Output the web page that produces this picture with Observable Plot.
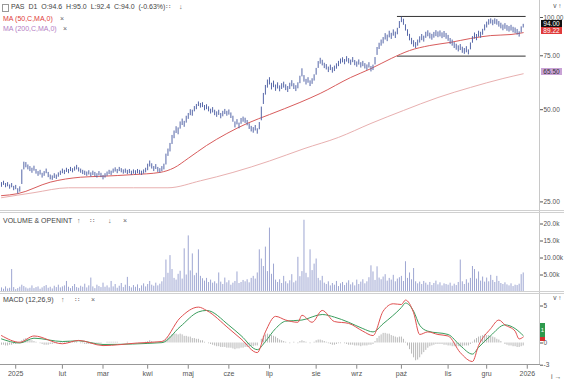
<!DOCTYPE html>
<html><head><meta charset="utf-8">
<script src="https://cdn.jsdelivr.net/npm/d3@7"></script>
<script src="https://cdn.jsdelivr.net/npm/@observablehq/plot@0.6"></script>
<style>
body{margin:0;background:#fff;font-family:"Liberation Sans",Arial,sans-serif;}
#wrap{position:relative;width:564px;height:381px;overflow:hidden;background:#fff;}
.p{position:absolute;left:0;}
.t{position:absolute;font-size:7px;color:#444;white-space:pre;line-height:8px;}
.ln{position:absolute;background:#c8c8c8;}
.box{position:absolute;left:541px;width:21px;height:7px;font-size:6.5px;line-height:7px;text-align:center;}
</style></head><body><div id="wrap"></div>
<script>
// ---- price bars (daily low / high), index 0 = mid Dec 2024 ----
const lo = [27.9,28.3,27.8,28.0,27.5,27.8,27.2,27.4,26.5,26.9,
28.5,31.8,32.3,31.8,31.4,31.0,31.5,30.8,30.3,30.6,
29.9,30.3,30.9,30.0,29.5,29.4,29.8,29.6,30.1,30.5,
30.9,30.7,31.2,30.9,31.4,31.1,31.5,31.8,31.3,31.0,
30.7,30.5,30.3,30.6,30.1,30.5,30.2,29.9,30.4,30.0,
29.5,29.9,30.3,30.7,30.5,31.0,31.3,30.9,31.4,31.1,
30.8,31.0,30.7,30.9,30.5,30.8,30.6,30.9,30.7,30.5,
30.8,31.1,31.6,32.5,32.0,31.4,31.9,31.2,31.0,31.4,
31.8,33.0,35.2,36.4,38.5,40.2,41.8,41.4,43.2,44.4,
43.8,45.2,46.5,47.8,47.6,49.2,50.0,51.2,50.6,50.8,
49.6,50.0,49.2,48.4,48.8,47.8,47.2,47.9,46.7,47.4,
48.2,47.6,48.0,46.8,45.5,43.6,44.6,43.3,44.8,45.5,
45.1,44.3,43.1,42.3,41.9,42.6,41.6,43.0,46.0,52.0,
55.8,58.8,60.2,58.0,59.0,57.4,58.4,57.2,58.2,58.8,
57.7,56.9,58.2,59.4,58.2,57.3,58.5,60.8,64.0,61.5,
60.2,61.0,59.5,60.5,62.0,64.8,68.2,70.4,69.5,68.1,
67.4,66.1,67.1,65.8,66.6,67.8,69.1,70.4,71.1,70.1,
71.5,70.6,69.8,71.2,69.6,68.8,69.9,68.4,69.1,67.9,
67.2,68.4,66.4,67.1,70.0,75.2,78.6,80.6,82.0,84.4,
83.4,85.8,84.8,86.9,85.4,87.8,92.0,96.2,94.3,90.3,
86.8,83.9,81.5,80.0,79.2,80.6,82.5,84.0,83.1,85.5,
86.5,85.1,84.3,85.6,86.6,85.9,86.4,85.3,86.0,84.9,
83.6,81.6,80.6,79.2,78.2,77.2,78.0,76.4,75.8,76.7,
75.5,78.4,82.4,85.0,84.0,86.2,85.5,87.5,90.4,92.4,
94.4,95.2,94.0,95.0,94.4,93.0,91.8,90.5,91.5,90.2,
89.6,90.3,89.1,88.6,87.6,86.3,89.0,92.4];
const hi = [28.9,29.2,28.7,28.9,28.4,28.7,28.1,28.3,27.6,28.0,
31.8,33.7,33.6,33.0,32.6,32.2,32.7,31.9,31.4,31.7,
31.0,31.4,32.0,31.2,30.6,30.4,30.9,30.6,31.1,31.5,
32.0,31.7,32.2,31.9,32.4,32.1,32.5,32.9,32.3,32.0,
31.7,31.5,31.3,31.6,31.1,31.5,31.2,30.9,31.4,31.0,
30.5,30.9,31.3,31.7,31.5,32.0,32.3,31.9,32.4,32.1,
31.8,32.0,31.7,31.9,31.5,31.8,31.6,31.9,31.7,31.5,
31.8,32.2,33.2,34.0,33.3,32.6,33.1,32.4,32.1,32.6,
33.2,35.8,37.2,38.8,41.2,42.6,44.0,43.6,45.6,46.6,
45.8,47.6,48.6,50.0,49.8,51.2,52.0,53.0,52.4,52.7,
51.6,51.9,51.1,50.2,50.8,49.8,49.2,49.8,48.6,49.4,
50.1,49.4,49.9,48.8,47.6,45.6,46.4,45.2,46.8,47.3,
46.9,46.1,45.0,44.1,43.7,44.4,43.3,45.4,51.0,56.5,
60.0,62.5,63.6,61.0,62.0,60.2,61.2,59.8,60.8,61.5,
60.3,59.5,61.0,62.2,60.8,59.9,61.2,64.3,68.0,64.6,
62.8,63.6,62.1,63.1,65.0,68.2,71.8,73.6,72.5,70.9,
70.2,68.9,69.9,68.6,69.4,70.6,71.9,73.2,73.9,72.9,
74.5,73.4,72.6,74.0,72.4,71.6,72.7,71.2,71.9,70.7,
70.0,71.2,69.2,69.9,74.0,79.8,82.4,84.4,86.0,88.6,
87.6,90.2,88.8,91.1,89.6,92.2,97.0,100.2,98.7,94.7,
91.2,88.1,85.5,84.0,82.8,84.4,86.5,88.0,86.9,89.5,
90.5,88.9,88.1,89.4,90.6,89.7,90.4,89.1,90.0,88.7,
87.4,85.4,84.4,82.8,81.8,80.8,81.6,80.0,79.2,80.3,
78.4,82.6,86.6,89.0,88.0,90.2,89.5,91.5,94.6,96.6,
98.4,99.0,98.0,99.0,98.4,97.0,95.8,94.5,95.5,94.2,
93.4,94.3,92.9,92.4,91.4,89.8,93.2,95.0];

// ---- moving averages ----
const ma50Idx = [0,8,24,39,49,65,78,85,92,101,111,121,132,147,157,172,182,192,201,211,221,231,241,251,257];
const ma50Val = [26.2,26.6,29.0,30.1,30.3,30.7,31.2,32.3,34.7,38.2,41.8,45.1,48.2,52.8,56.5,63.7,68.1,73.5,78.0,81.0,82.9,85.4,87.3,88.0,89.22];
const ma200Idx = [0,16,33,49,65,82,98,114,132,149,166,182,198,215,231,247,257];
const ma200Val = [25.8,26.8,27.8,27.8,27.8,27.8,29.3,31.2,34.0,37.3,40.6,45.1,49.7,54.8,59.1,63.2,65.5];

// ---- channel lines ----
const chanIdx = [195,258];
const chanTop = 100.8;
const chanBot = 74.8;

// ---- volume (thousands) ----
const vol = [1.2,0.8,1.5,0.9,1.1,6.6,1.3,0.7,1.0,1.4,
2.0,1.6,1.2,0.9,1.1,1.8,1.0,1.3,1.5,0.8,
1.2,1.6,1.9,1.1,1.4,0.9,1.7,1.3,2.0,1.2,
1.5,1.8,3.1,1.4,1.0,1.6,2.2,1.3,1.1,1.7,
1.4,2.3,1.2,1.8,4.1,1.5,1.0,2.0,1.6,1.3,
2.6,1.4,1.8,1.2,3.1,1.5,2.2,1.1,1.7,2.5,
1.3,2.0,4.3,1.6,1.2,1.9,1.4,2.1,1.0,1.8,
2.4,1.5,2.2,3.1,2.0,1.7,2.6,1.8,2.3,3.0,
4.2,9.4,5.5,10.7,6.6,4.0,3.5,5.2,6.1,3.8,
12.7,5.0,16.5,6.2,11.2,4.8,5.5,12.4,4.6,3.9,
3.2,4.0,2.8,3.5,2.6,3.0,2.4,5.6,2.9,2.2,
4.1,2.7,3.3,2.0,2.6,3.1,5.9,2.5,2.8,3.4,
3.0,3.6,2.7,4.0,4.6,3.8,5.6,12.4,9.7,7.5,
13.2,6.0,18.8,5.2,8.2,3.5,2.8,3.6,2.5,4.6,
3.0,2.4,3.3,5.1,2.7,3.2,10.2,4.5,6.0,21.1,
5.5,4.2,12.4,6.3,8.2,9.7,4.0,3.3,4.6,2.6,
2.2,3.0,1.8,2.5,2.0,3.1,1.6,2.4,2.8,1.9,
2.6,3.3,2.1,2.7,1.8,3.5,2.2,2.9,3.6,2.4,
3.0,4.2,7.7,5.9,3.4,7.4,4.1,3.6,4.4,5.1,
3.2,4.0,3.5,4.9,3.0,3.8,4.2,4.6,3.1,8.9,
4.0,5.6,3.6,6.9,3.0,2.4,2.9,2.2,3.1,2.6,
2.0,2.8,1.9,2.5,3.2,2.1,2.7,1.8,2.4,2.2,
2.0,2.6,1.7,2.3,1.9,2.8,9.4,3.0,2.2,3.6,
2.6,4.0,7.5,6.6,3.8,5.9,3.2,4.4,2.9,4.1,
3.0,4.9,3.4,2.8,4.6,3.1,2.5,2.2,2.7,2.1,
1.8,2.4,1.6,2.0,1.9,2.3,5.1,5.6];

// ---- MACD (12,26,9) ----
const macdIdx = [0,9,16,30,38,50,67,79,88,97,101,112,118,126,130,135,140,146,148,153,158,164,171,178,183,188,193,197,199,203,206,210,215,220,226,232,235,241,245,248,253,255,257];
const macdVal = [1.0,0.1,0.95,-0.1,0.35,-0.35,0.0,0.2,3.4,4.85,4.4,1.95,0.55,-1.3,1.5,3.6,3.1,2.8,3.75,2.8,4.4,2.9,2.65,1.6,1.0,4.3,5.3,5.2,5.8,4.1,1.15,1.5,1.15,0.95,-1.3,-2.5,-0.35,1.95,3.1,2.45,1.6,0.55,0.8];
const sigIdx = [0,9,16,30,38,50,79,88,97,101,112,118,126,130,135,140,148,158,164,171,178,183,188,197,199,203,206,210,220,226,232,235,241,248,253,257];
const sigVal = [0.55,0.0,0.65,0.2,0.3,-0.2,0.05,2.2,4.2,4.4,2.4,1.0,-0.9,0.2,1.95,2.95,3.1,3.85,3.5,2.8,1.95,1.5,2.6,4.8,5.4,4.3,2.4,1.6,1.15,-0.35,-1.5,-0.6,1.0,2.45,1.95,1.0];
const hist = [-0.3,-0.3,-0.4,-0.4,-0.3,-0.3,-0.2,-0.2,-0.1,0.1,
0.3,0.5,0.6,0.5,0.4,0.3,0.2,0.1,0,-0.1,
-0.2,-0.3,-0.3,-0.3,-0.2,-0.2,-0.1,-0.1,0,0.1,
0.1,0.2,0.2,0.2,0.1,0.1,0.1,0.1,0,-0.1,
-0.1,-0.2,-0.2,-0.2,-0.2,-0.1,-0.1,-0.1,-0.1,-0.1,
0,0,0.1,0.1,0.1,0.1,0.1,0.1,0,0,
0,0,0.1,0,0,0,0,0,0,0,
0,0.1,0.2,0.3,0.2,0.1,0.1,0,0,0.1,
0.2,0.5,0.7,0.9,1.1,1.2,1.2,1.1,1.2,1.1,
0.9,0.9,0.8,0.8,0.6,0.6,0.5,0.5,0.3,0.3,
0.1,0.0,-0.1,-0.2,-0.3,-0.4,-0.5,-0.5,-0.6,-0.6,
-0.6,-0.7,-0.7,-0.7,-0.8,-0.9,-0.8,-0.8,-0.7,-0.7,
-0.6,-0.6,-0.6,-0.5,-0.5,-0.4,-0.4,0.0,0.5,0.9,
1.1,1.2,1.1,1.0,0.9,0.8,0.6,0.4,0.3,0.2,
0.1,0.0,-0.1,0.0,0.1,0.0,-0.1,0.2,0.3,0.2,
0.1,0.0,-0.1,0.0,0.1,0.3,0.4,0.4,0.3,0.2,
0.1,-0.1,-0.2,-0.3,-0.3,-0.2,-0.1,-0.1,0.0,-0.1,
-0.2,-0.3,-0.3,-0.3,-0.4,-0.4,-0.4,-0.5,-0.4,-0.4,
-0.4,-0.3,-0.3,-0.2,0.2,0.6,0.9,1.1,1.3,1.3,
1.2,1.2,1.0,0.9,0.8,0.7,0.8,0.8,0.5,0.1,
-0.4,-0.9,-1.5,-2.0,-2.4,-2.3,-2.0,-1.6,-1.3,-1.0,
-0.7,-0.5,-0.4,-0.3,-0.2,-0.2,-0.2,-0.2,-0.3,-0.3,
-0.4,-0.4,-0.5,-0.5,-0.5,-0.5,-0.5,-0.5,-0.4,-0.4,
-0.4,-0.2,0.1,0.4,0.6,0.8,0.9,1.0,1.1,1.0,
1.0,0.9,0.8,0.7,0.5,0.4,0.2,0.0,-0.2,-0.3,
-0.4,-0.4,-0.5,-0.5,-0.6,-0.6,-0.5,-0.4];

// ---- axis ticks ----
const priceTicks = [25,50,75,100];
const volTicks = [5,10,15,20];
const volLabels = ["5.00k","10.00k","15.0k","20.0k"];
const macdTicks = [-3,0,5];
const monthTicks = [7,30,50,72,92,112,132,155,175,197,220,239,259];
const monthLabels = ["2025","lut","mar","kwi","maj","cze","lip","sie","wrz","paź","lis","gru","2026"];

const lastBox = [{v:94.00,bg:"#111",fg:"#fff"},{v:89.22,bg:"#e03a3a",fg:"#fff"},{v:65.50,bg:"#c9a3d6",fg:"#333"}];

// ---- build ----
const wrap = document.getElementById("wrap");
const idx = lo.map((_, i) => i);
const X = {domain:[0,259], range:[1,526.77]};
const st = {background:"transparent", fontFamily:"Liberation Sans, Arial, sans-serif", color:"#555", overflow:"visible"};
const ma50 = ma50Idx.map((d,i)=>({i:d, v:ma50Val[i]}));
const ma200 = ma200Idx.map((d,i)=>({i:d, v:ma200Val[i]}));
const chan = [
  ...chanIdx.map(i=>({i, v:chanTop, g:"t"})),
  ...chanIdx.map(i=>({i, v:chanBot, g:"b"}))
];

const p1 = Plot.plot({
  width:564, height:212, marginLeft:0, marginRight:25, marginTop:0, marginBottom:1,
  x:{...X, axis:null},
  y:{type:"log", domain:[25,100], range:[201.4,17], axis:null},
  style:st,
  marks:[
    Plot.axisY({anchor:"right", ticks:priceTicks, tickFormat:d=>d.toFixed(2), tickSize:3, tickPadding:1, fontSize:6.5}),
    Plot.line(chan, {x:"i", y:"v", z:"g", stroke:"#333", strokeWidth:1}),
    Plot.line(ma200, {x:"i", y:"v", stroke:"#e8b0b0", strokeWidth:1, curve:"monotone-x"}),
    Plot.line(ma50, {x:"i", y:"v", stroke:"#d85c5c", strokeWidth:1, curve:"monotone-x"}),
    Plot.ruleX(idx, {x:d=>d, y1:d=>lo[d], y2:d=>hi[d], stroke:"#5667a8", strokeWidth:1})
  ]
});
p1.classList.add("p"); p1.style.top = "0px"; wrap.appendChild(p1);

const p2 = Plot.plot({
  width:564, height:80, marginLeft:0, marginRight:25, marginTop:1, marginBottom:1,
  x:{...X, axis:null},
  y:{domain:[0,20], range:[79.5,11.5], axis:null},
  style:st,
  marks:[
    Plot.axisY({anchor:"right", ticks:volTicks, tickFormat:d=>volLabels[volTicks.indexOf(d)], tickSize:3, tickPadding:1, fontSize:6.5}),
    Plot.ruleX(idx, {x:d=>d, y1:()=>0, y2:d=>vol[d], stroke:"#9ea6d2", strokeWidth:1})
  ]
});
p2.classList.add("p"); p2.style.top = "212px"; wrap.appendChild(p2);

const macd = macdIdx.map((d,i)=>({i:d, v:macdVal[i]}));
const sig = sigIdx.map((d,i)=>({i:d, v:sigVal[i]}));
const p3 = Plot.plot({
  width:564, height:89, marginLeft:0, marginRight:25, marginTop:1, marginBottom:16.3,
  x:{...X, axis:null},
  y:{domain:[-3,5], range:[72.7,13.5], axis:null},
  style:st,
  marks:[
    Plot.axisY({anchor:"right", ticks:macdTicks, tickFormat:d=>String(d), tickSize:3, tickPadding:1, fontSize:6.5}),
    Plot.axisX({anchor:"bottom", ticks:monthTicks, tickFormat:d=>monthLabels[monthTicks.indexOf(d)], tickSize:4, tickPadding:2, fontSize:7, stroke:"#888"}),
    Plot.ruleX(idx, {x:d=>d, y1:()=>0, y2:d=>hist[d], stroke:"#b8b8b8", strokeWidth:1}),
    Plot.line(sig, {x:"i", y:"v", stroke:"#3a9d5d", strokeWidth:1, curve:"monotone-x"}),
    Plot.line(macd, {x:"i", y:"v", stroke:"#e05050", strokeWidth:1, curve:"monotone-x"})
  ]
});
p3.classList.add("p"); p3.style.top = "292px"; wrap.appendChild(p3);

// separators / frame lines
function line(l,t,w,h,c){const d=document.createElement("div");d.className="ln";d.style.cssText=`left:${l}px;top:${t}px;width:${w}px;height:${h}px;`+(c?`background:${c};`:"");wrap.appendChild(d);}
line(539,0,1,365);
line(0,210,564,1,"#d0d0d0"); line(0,212,564,1,"#d0d0d0");
line(0,291,564,1,"#d0d0d0"); line(0,293,564,1,"#d0d0d0");
line(0,364,540,1,"#999");

// right-edge value boxes
const ys = p1.scale("y");
for (const b of lastBox) {
  const d = document.createElement("div"); d.className="box";
  d.style.top = (ys.apply(b.v) - 3.5 - 1.5) + "px";
  d.style.background = b.bg; d.style.color = b.fg; d.textContent = b.v.toFixed(2);
  wrap.appendChild(d);
}
const ym = p3.scale("y");
const macdBoxes = [{v:sigVal[sigVal.length-1], bg:"#2e9a4c", t:"1", h:14},{v:macdVal[macdVal.length-1], bg:"#d83030", t:"", h:4}];
{
  const g = document.createElement("div"); g.className="box";
  g.style.cssText += `left:540px;width:5px;height:14px;top:${292+ym.apply(macdBoxes[0].v)-12}px;background:${macdBoxes[0].bg};color:#fff;font-size:6px;line-height:14px;`;
  g.textContent = macdBoxes[0].t; wrap.appendChild(g);
  const r = document.createElement("div"); r.className="box";
  r.style.cssText += `left:540px;width:5px;height:4px;top:${292+ym.apply(macdBoxes[0].v)+2}px;background:${macdBoxes[1].bg};`;
  wrap.appendChild(r);
}

// header texts
function txt(s,l,t,c,fs){const d=document.createElement("div");d.className="t";d.style.left=l+"px";d.style.top=t+"px";if(c)d.style.color=c;if(fs)d.style.fontSize=fs+"px";d.textContent=s;wrap.appendChild(d);return d;}
const ic=document.createElement("div");ic.style.cssText="position:absolute;left:2px;top:4px;width:5px;height:6px;border:1px solid #999;";wrap.appendChild(ic);
txt("PAS  D1  O:94.6  H:95.0  L:92.4  C:94.0  (-0.63%)",11,3);
txt("∷",166,3,"#666"); txt("↓",179,3,"#666");
txt("MA (50,C,MA,0)",3,15,"#e03a3a"); txt("×",60,15,"#666");
txt("MA (200,C,MA,0)",3,25,"#b47cc4"); txt("×",63,25,"#666");
txt("VOLUME & OPENINT",3,217); txt("↑",77,217,"#666"); txt("∷",90,217,"#666"); txt("↓",108,217,"#666"); txt("×",123,217,"#666");
txt("MACD (12,26,9)",3,296); txt("↑",61,296,"#666"); txt("∷",75,296,"#666"); txt("×",91,296,"#666");
</script></body></html>
